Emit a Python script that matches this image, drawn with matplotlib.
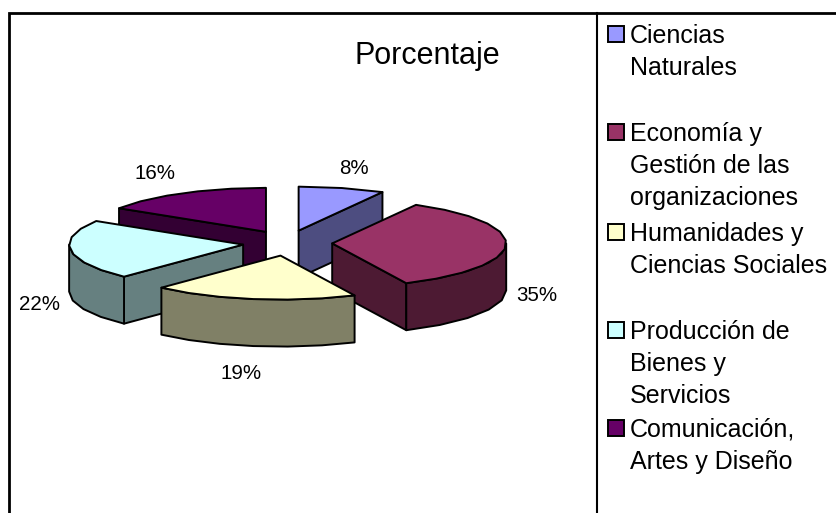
import numpy as np
import matplotlib
matplotlib.use("Agg")
import matplotlib.pyplot as plt
from matplotlib.patches import Polygon, Rectangle

plt.rcParams["font.family"] = ["Liberation Sans", "DejaVu Sans"]

# data
categories = [["Ciencias", "Naturales"],
              ["Economía y", "Gestión de las", "organizaciones"],
              ["Humanidades y", "Ciencias Sociales"],
              ["Producción de", "Bienes y", "Servicios"],
              ["Comunicación,", "Artes y Diseño"]]
values = [8, 35, 19, 22, 16]
top_colors  = ["#9999FF", "#993366", "#FFFFCC", "#CCFFFF", "#660066"]
side_colors = ["#4D4D80", "#4D1A33", "#808066", "#668080", "#330033"]

# layout, in pixels of the reference
cx, cy = 287.5, 243
rx, ry = 174, 44
depth = 47
explode_x, explode_y = 0.257, 0.29
draw_order = [0, 4, 3, 1, 2]
label_xy = [(354, 168.5), (537, 295.5), (241, 373.5), (39, 304.5), (155, 173.5)]
legend_y = [34, 132, 232, 330, 428]
line_h = 32

fig = plt.figure(figsize=(8.36, 5.13), dpi=100)
ax = fig.add_axes([0, 0, 1, 1])
ax.set_xlim(0, 836)
ax.set_ylim(513, 0)
ax.axis("off")

# frame
ax.plot([9, 9, 836], [513, 13, 13], color="black", lw=2.0, solid_joinstyle="miter")
ax.plot([597, 597], [13, 513], color="black", lw=1.5)

ax.text(427, 56, "Porcentaje", fontsize=22, ha="center", va="center")

total = float(sum(values))
edges = np.concatenate([[0], np.cumsum(values)]) / total * 360


def arc(a0, a1, ox, oy, step=11.0):
    # angles clockwise from the top, coarse on purpose: the reference edge is rough
    n = max(int(abs(a1 - a0) / step), 1)
    t = np.radians(np.linspace(a0, a1, n + 1))
    return np.column_stack([ox + rx * np.sin(t), oy - ry * np.cos(t)])


def wall(p, q):
    return [p, q, (q[0], q[1] + depth), (p[0], p[1] + depth)]


for i in draw_order:
    a0, a1 = edges[i], edges[i + 1]
    mid = np.radians((a0 + a1) / 2)
    ox = cx + explode_x * rx * np.sin(mid)
    oy = cy - explode_y * ry * np.cos(mid)
    rim = arc(a0, a1, ox, oy)
    apex = (ox, oy)
    kw = dict(edgecolor="black", lw=1.4, joinstyle="round")

    # radial walls that face the viewer
    if rim[-1][0] > ox:
        ax.add_patch(Polygon(wall(rim[-1], apex), facecolor=side_colors[i], **kw))
    if rim[0][0] < ox:
        ax.add_patch(Polygon(wall(apex, rim[0]), facecolor=side_colors[i], **kw))

    # front part of the outer wall
    f0, f1 = max(a0, 90), min(a1, 270)
    if f1 > f0:
        front = arc(f0, f1, ox, oy)
        lower = front[::-1] + [0, depth]
        ax.add_patch(Polygon(np.vstack([front, lower]), facecolor=side_colors[i], **kw))

    ax.add_patch(Polygon(np.vstack([[apex], rim]), facecolor=top_colors[i], **kw))

for v, (x, y) in zip(values, label_xy):
    ax.text(x, y, f"{v}%", fontsize=14.8, ha="center", va="center")

# legend
for lines, color, y in zip(categories, top_colors, legend_y):
    ax.add_patch(Rectangle((607.5, y - 8), 16, 16, facecolor=color, edgecolor="black", lw=1.4))
    for j, line in enumerate(lines):
        ax.text(630, y + 2 + j * line_h, line, fontsize=18, ha="left", va="center")

fig.savefig("out.png", dpi=100)
